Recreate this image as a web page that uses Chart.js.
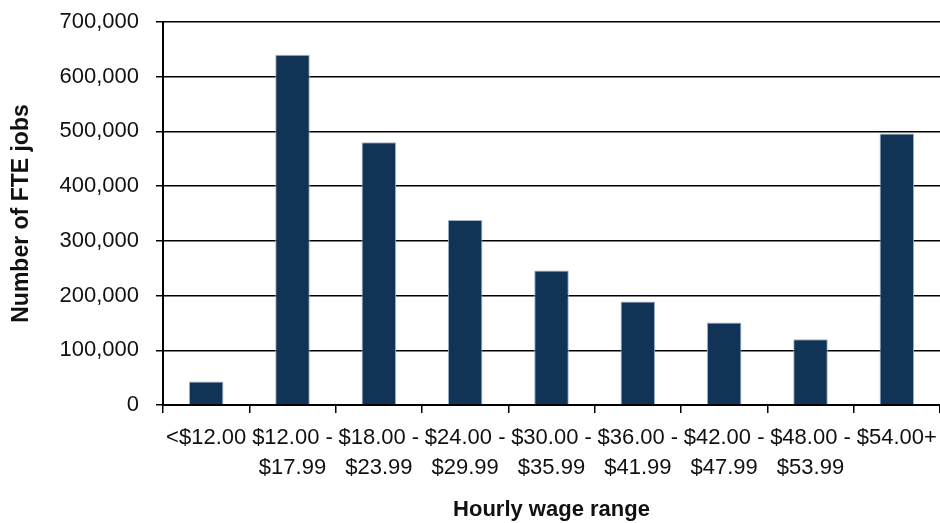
<!DOCTYPE html>
<html>
<head>
<meta charset="utf-8">
<script src="https://cdn.jsdelivr.net/npm/chart.js@4.4.1/dist/chart.umd.min.js"></script>
<style>
  html, body { margin: 0; padding: 0; background: #fff; }
  #wrap { width: 940px; height: 523px; position: relative; }
</style>
</head>
<body>
<div id="wrap"><canvas id="c" width="940" height="523"></canvas></div>
<script>
const categories = [
  ["<$12.00"],
  ["$12.00 -", "$17.99"],
  ["$18.00 -", "$23.99"],
  ["$24.00 -", "$29.99"],
  ["$30.00 -", "$35.99"],
  ["$36.00 -", "$41.99"],
  ["$42.00 -", "$47.99"],
  ["$48.00 -", "$53.99"],
  ["$54.00+"]
];
const fteJobs = [43000, 640000, 480000, 338000, 246000, 189000, 151000, 120000, 496000];
const yTicks = [0, 100000, 200000, 300000, 400000, 500000, 600000, 700000];
const xTitle = "Hourly wage range";
const yTitle = "Number of FTE jobs";

const FONT = "'Liberation Sans', Arial, sans-serif";

const chart = new Chart(document.getElementById('c'), {
  type: 'bar',
  data: {
    labels: categories,
    datasets: [{
      data: fteJobs,
      backgroundColor: '#113456',
      borderColor: '#9fb3c8',
      borderWidth: 1,
      borderSkipped: 'bottom',
      barPercentage: 0.4,
      categoryPercentage: 1.0
    }]
  },
  options: {
    responsive: false,
    animation: false,
    devicePixelRatio: 1,
    layout: { padding: { left: 0, right: 0, top: 22, bottom: 0 } },
    plugins: { legend: { display: false }, tooltip: { enabled: false } },
    scales: {
      x: {
        type: 'category',
        offset: true,
        grid: {
          display: true,
          drawOnChartArea: false,
          drawTicks: true,
          tickLength: 8,
          offset: true,
          color: '#000',
          lineWidth: 1.5
        },
        border: { display: true, color: '#000', width: 2 },
        ticks: {
          color: '#111',
          font: { family: FONT, size: 22, lineHeight: 1.36 },
          padding: 10,
          maxRotation: 0,
          autoSkip: false
        },
        title: {
          display: true,
          text: xTitle,
          color: '#111',
          font: { family: FONT, size: 22, weight: 'bold', lineHeight: 1.2 },
          padding: { top: 0, bottom: 0 }
        },
        afterFit: (s) => { s.height = 118; s.paddingLeft = 0; s.paddingRight = 0; }
      },
      y: {
        min: 0,
        max: 700000,
        afterBuildTicks: (s) => { s.ticks = yTicks.map(v => ({ value: v })); },
        grid: {
          color: '#000',
          lineWidth: 1.5,
          drawTicks: true,
          tickLength: 7
        },
        border: { display: true, color: '#000', width: 2 },
        ticks: {
          color: '#111',
          font: { family: FONT, size: 22 },
          padding: 17,
          callback: (v) => Number(v).toLocaleString('en-US')
        },
        title: {
          display: true,
          text: yTitle,
          color: '#111',
          font: { family: FONT, size: 23, weight: 'bold', lineHeight: 1.2 },
          padding: { top: 8, bottom: 0 }
        },
        afterFit: (s) => { s.width = 163; s.paddingTop = 0; s.paddingBottom = 0; }
      }
    }
  }
});
</script>
</body>
</html>
